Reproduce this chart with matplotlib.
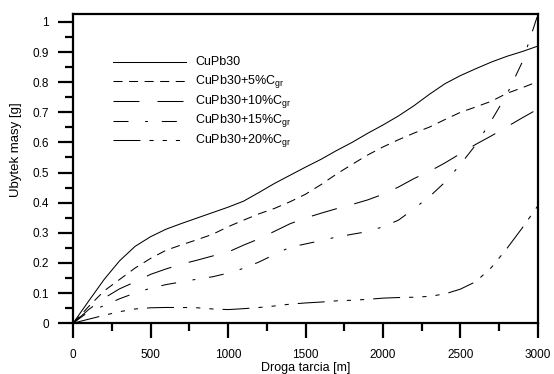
import numpy as np
import matplotlib.pyplot as plt
from matplotlib.ticker import MultipleLocator

plt.rcParams['font.family'] = ['Liberation Sans', 'DejaVu Sans']
plt.rcParams['mathtext.fontset'] = 'custom'
plt.rcParams['mathtext.rm'] = 'Liberation Sans'
plt.rcParams['lines.scale_dashes'] = False

# distance [m]
x = np.arange(0, 3001, 100)

cupb30 = [0, 0.073, 0.145, 0.207, 0.255, 0.287, 0.312, 0.331, 0.349, 0.367, 0.385,
          0.405, 0.434, 0.464, 0.491, 0.518, 0.544, 0.573, 0.600, 0.630, 0.658,
          0.688, 0.722, 0.760, 0.795, 0.822, 0.845, 0.867, 0.886, 0.902, 0.920]
c5 = [0, 0.055, 0.107, 0.145, 0.183, 0.215, 0.242, 0.260, 0.277, 0.295, 0.320,
      0.342, 0.363, 0.381, 0.403, 0.428, 0.460, 0.495, 0.527, 0.558, 0.585,
      0.609, 0.631, 0.651, 0.676, 0.700, 0.718, 0.737, 0.763, 0.782, 0.802]
c10 = [0, 0.045, 0.083, 0.114, 0.137, 0.162, 0.180, 0.196, 0.209, 0.223, 0.236,
       0.259, 0.280, 0.305, 0.330, 0.349, 0.365, 0.380, 0.394, 0.409, 0.428,
       0.452, 0.480, 0.504, 0.532, 0.563, 0.594, 0.622, 0.652, 0.682, 0.711]
c15 = [0, 0.038, 0.058, 0.081, 0.100, 0.116, 0.128, 0.137, 0.146, 0.154, 0.166,
       0.182, 0.203, 0.228, 0.252, 0.263, 0.274, 0.286, 0.295, 0.304, 0.320,
       0.342, 0.380, 0.420, 0.468, 0.527, 0.593, 0.673, 0.760, 0.868, 1.025]
c20 = [0, 0.013, 0.026, 0.038, 0.047, 0.051, 0.052, 0.052, 0.051, 0.047, 0.045,
       0.048, 0.052, 0.057, 0.063, 0.067, 0.070, 0.074, 0.076, 0.079, 0.083,
       0.085, 0.086, 0.089, 0.097, 0.113, 0.138, 0.185, 0.248, 0.317, 0.390]

labels = ['CuPb30', r'CuPb30+5%C$_{\rm gr}$', r'CuPb30+10%C$_{\rm gr}$',
          r'CuPb30+15%C$_{\rm gr}$', r'CuPb30+20%C$_{\rm gr}$']
styles = [(None, None), (6.5, 4.7), (18.7, 13), (10.8, 12, 2, 10),
          (19.4, 6.5, 3, 6.5, 3, 6.5, 3, 6.5)]

fig = plt.figure(figsize=(5.54, 3.74), dpi=100)
ax = fig.add_axes([0.132, 0.136, 0.839, 0.827])

lw = 0.75
for i, y in enumerate([cupb30, c5, c10, c15, c20]):
    line, = ax.plot(x, y, color='black', lw=lw)
    if styles[i][0] is not None:
        line.set_dashes(styles[i])

# legend drawn by hand (rows evenly spaced like the original)
for i, lab in enumerate(labels):
    yy = 0.845 - i * 0.0635
    l, = ax.plot([0.086, 0.243], [yy, yy], color='black', lw=lw, transform=ax.transAxes)
    if styles[i][0] is not None:
        l.set_dashes(styles[i])
    ax.text(0.262, yy, lab, transform=ax.transAxes, va='center', fontsize=9)

ax.set_xlim(0, 3000)
ax.set_ylim(0, 1.027)
ax.xaxis.set_major_locator(MultipleLocator(500))
ax.xaxis.set_minor_locator(MultipleLocator(250))
ax.yaxis.set_minor_locator(MultipleLocator(0.05))
ax.set_yticks(np.arange(0, 1.01, 0.1))
ax.set_yticklabels(['0', '0.1', '0.2', '0.3', '0.4', '0.5', '0.6', '0.7', '0.8', '0.9', '1'])

for s in ax.spines.values():
    s.set_linewidth(1.6)
ax.tick_params(which='major', direction='out', length=10.5, width=1.6, labelsize=8.5)
ax.tick_params(which='minor', direction='out', length=6, width=1.6)
ax.tick_params(axis='x', pad=8)
ax.tick_params(axis='y', pad=7)

ax.set_xlabel('Droga tarcia [m]', fontsize=9)
ax.xaxis.set_label_coords(0.5, -0.125)
ax.xaxis.label.set_va('top')
ax.set_ylabel('Ubytek masy [g]', fontsize=9.5)
ax.yaxis.set_label_coords(-0.11, 0.56)

fig.savefig('out.png', dpi=100)
